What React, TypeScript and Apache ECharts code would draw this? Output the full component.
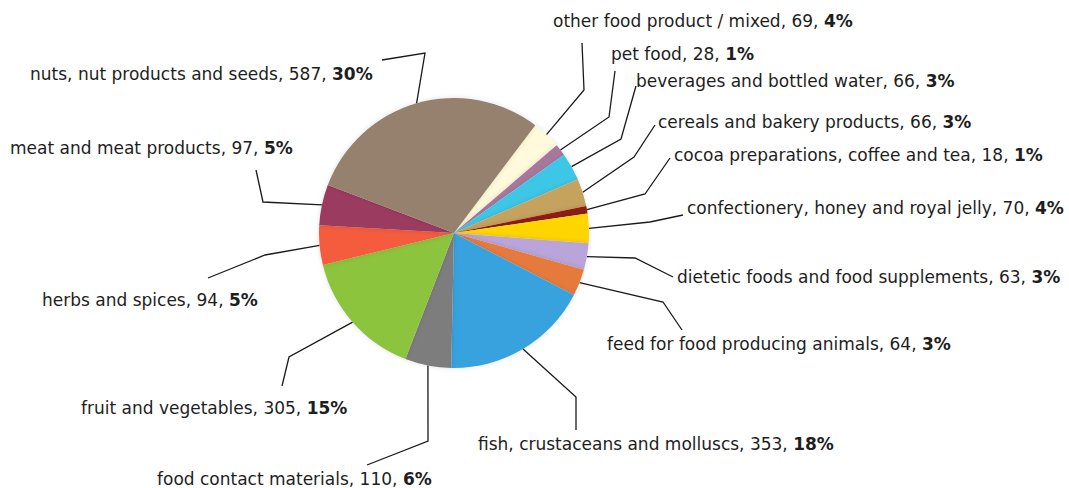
import React, { useEffect, useRef } from "react";
import * as echarts from "echarts";

const categories = [
  "other food product / mixed",
  "pet food",
  "beverages and bottled water",
  "cereals and bakery products",
  "cocoa preparations, coffee and tea",
  "confectionery, honey and royal jelly",
  "dietetic foods and food supplements",
  "feed for food producing animals",
  "fish, crustaceans and molluscs",
  "food contact materials",
  "fruit and vegetables",
  "herbs and spices",
  "meat and meat products",
  "nuts, nut products and seeds",
];
const values = [69, 28, 66, 66, 18, 70, 63, 64, 353, 110, 305, 94, 97, 587];
const percentLabels = ["4%", "1%", "3%", "3%", "1%", "4%", "3%", "3%", "18%", "6%", "15%", "5%", "5%", "30%"];
const colors = [
  "#FFFADB", "#A8789C", "#3EC6E6", "#C6A25E", "#8E1C12", "#FFD500", "#B9A5D9",
  "#E67A3C", "#38A2DE", "#7D7D7D", "#8CC43E", "#F45C3C", "#9B3A5E", "#96806E",
];

// label layout (presentation): label anchor (left, middle) and leader line points
const labelAnchors = [
  [553, 21], [611, 54], [636, 81], [658, 122], [674, 155], [687, 208], [677, 277],
  [607, 344], [478, 444], [157, 479], [81, 408], [42, 300], [10, 148], [30, 74],
];
const lineBends = [
  [[584, 90], [582, 43]],
  [[609, 117], [615, 71]],
  [[621, 139], [636, 86]],
  [[634, 157], [655, 125]],
  [[645, 194], [670, 158]],
  [[650, 222], [683, 215]],
  [[635, 258], [673, 277]],
  [[663, 302], [682, 330]],
  [[576, 397], [576, 430]],
  [[428, 441], [367, 465]],
  [[289, 357], [282, 386]],
  [[265, 255], [208, 278]],
  [[263, 202], [256, 170]],
  [[425, 53], [382, 60]],
];

const CENTER = [454, 233];
const RADIUS = 135;
const START_ANGLE = 53;

export default function App() {
  const ref = useRef<HTMLDivElement>(null);
  useEffect(() => {
    if (!ref.current) return;
    const chart = echarts.init(ref.current, null, { renderer: "svg" });
    const total = values.reduce((a, b) => a + b, 0);
    const cum: number[] = [];
    let acc = 0;
    values.forEach((v) => {
      cum.push(acc);
      acc += v;
    });
    const edgePoint = (i: number) => {
      const mid = cum[i] + values[i] / 2;
      const ang = ((START_ANGLE - (mid / total) * 360) * Math.PI) / 180;
      return [CENTER[0] + RADIUS * Math.cos(ang), CENTER[1] - RADIUS * Math.sin(ang)];
    };
    chart.setOption({
      animation: false,
      backgroundColor: "#ffffff",
      series: [
        {
          type: "pie",
          center: CENTER,
          radius: RADIUS,
          startAngle: START_ANGLE,
          clockwise: true,
          avoidLabelOverlap: false,
          data: categories.map((name, i) => ({
            name,
            value: values[i],
            itemStyle: { color: colors[i] },
          })),
          itemStyle: { borderWidth: 0, shadowBlur: 5, shadowColor: "rgba(0,0,0,0.12)" },
          emphasis: { disabled: true },
          label: {
            show: true,
            formatter: (p: any) => `{n|${p.name}, ${p.value}, }{b|${percentLabels[p.dataIndex]}}`,
            rich: {
              n: { fontFamily: "DejaVu Sans", fontSize: 17, color: "#1e1e1e" },
              b: { fontFamily: "DejaVu Sans", fontSize: 17, fontWeight: "bold", color: "#1e1e1e" },
            },
          },
          labelLine: {
            show: true,
            length: 20,
            length2: 20,
            lineStyle: { color: "#1a1a1a", width: 1.3 },
          },
          labelLayout: (params: any) => {
            const i = params.dataIndex;
            const a = labelAnchors[i];
            const b = lineBends[i];
            return {
              x: a[0],
              y: a[1],
              align: "left",
              verticalAlign: "middle",
              labelLinePoints: [edgePoint(i), b[0], b[1]],
            };
          },
        },
      ],
    });
    return () => chart.dispose();
  }, []);
  return (
    <div
      ref={ref}
      style={{ position: "fixed", left: 0, top: 0, width: 1069, height: 488 }}
    />
  );
}
